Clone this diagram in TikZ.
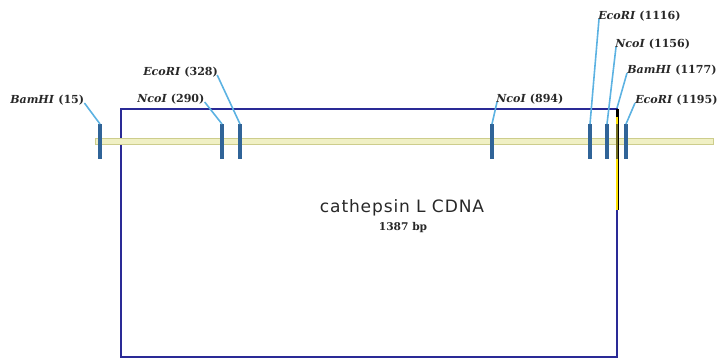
\documentclass[tikz,border=0pt]{standalone}
\usepackage{fontspec}
\setmainfont{DejaVu Serif}
\newfontfamily\titlefont[LetterSpace=5]{DejaVu Sans}
\definecolor{framecol}{RGB}{42,42,150}
\definecolor{barfill}{RGB}{240,240,196}
\definecolor{barline}{RGB}{205,205,140}
\definecolor{sitecol}{RGB}{48,100,152}
\definecolor{leadcol}{RGB}{92,178,226}
\definecolor{labcol}{RGB}{40,40,40}
\tikzset{
  site/.style={draw=sitecol, line width=3pt},
  leader/.style={draw=leadcol, line width=1.2pt},
  sitelabel/.style={anchor=base west, inner sep=0pt, text=labcol,
    font=\bfseries\fontsize{8.3}{10}\selectfont},
}
\newcommand{\enz}[1]{\textit{#1}}
\begin{document}
\begin{tikzpicture}[x=0.75pt, y=-0.75pt]
\useasboundingbox (0,0) rectangle (720,362);
% insert frame
\draw[framecol, line width=1.5pt] (121,109) rectangle (617,357);
% plasmid backbone bar
\draw[barline, fill=barfill, line width=0.6pt] (95,138.5) rectangle (713,144);
% highlighted junction on the right edge
\draw[yellow!85!orange, line width=1.5pt] (617,109) -- (617,210);
\draw[black, line width=0.6pt] (618.5,109) -- (618.5,210);
\draw[black, line width=1.5pt] (617,109) -- (617,117);
% cut-site ticks
\coordinate (t1) at (100,124); \coordinate (b1) at (100,159);
\coordinate (t2) at (222,124); \coordinate (b2) at (222,159);
\coordinate (t3) at (240,124); \coordinate (b3) at (240,159);
\coordinate (t4) at (492,124); \coordinate (b4) at (492,159);
\coordinate (t5) at (590,124); \coordinate (b5) at (590,159);
\coordinate (t6) at (607,124); \coordinate (b6) at (607,159);
\coordinate (t7) at (617,108); \coordinate (b7) at (617,159);
\coordinate (t8) at (626,124); \coordinate (b8) at (626,159);
\foreach \i in {1,2,3,4,5,6,8} \draw[site] (t\i) -- (b\i);
\draw[draw=olive!75!black, line width=2pt] (617,124) -- (b7);
% site labels
\node[sitelabel] (l1) at (10,103) {\enz{BamHI} (15)};
\node[sitelabel] (l2) at (137,102) {\enz{NcoI} (290)};
\node[sitelabel] (l3) at (143,75) {\enz{EcoRI} (328)};
\node[sitelabel] (l4) at (496,102) {\enz{NcoI} (894)};
\node[sitelabel] (l5) at (598,19) {\enz{EcoRI} (1116)};
\node[sitelabel] (l6) at (615,47) {\enz{NcoI} (1156)};
\node[sitelabel] (l7) at (627,73) {\enz{BamHI} (1177)};
\node[sitelabel] (l8) at (635,103) {\enz{EcoRI} (1195)};
% leader lines
\draw[leader] (l1.south east) ++(0,-2) -- (t1);
\draw[leader] (l2.south east) ++(0,-2) -- (t2);
\draw[leader] (l3.south east) ++(-1,-2) -- (t3);
\draw[leader] (l4.south west) ++(1,-2) -- (t4);
\draw[leader] (l5.south west) ++(1,-2) -- (t5);
\draw[leader] (l6.south west) ++(1,-2) -- (t6);
\draw[leader] (l7.south west) ++(0,-2) -- (t7);
\draw[leader] (l8.south west) ++(0,-2) -- (t8);
% insert name and length
\node[text=labcol, font=\titlefont\fontsize{12.8}{14}\selectfont, anchor=base] (title) at (402,212) {cathepsin L CDNA};
\node[text=labcol, font=\bfseries\fontsize{8}{9}\selectfont, anchor=base] (len) at (403,230) {1387 bp};
\end{tikzpicture}
\end{document}
